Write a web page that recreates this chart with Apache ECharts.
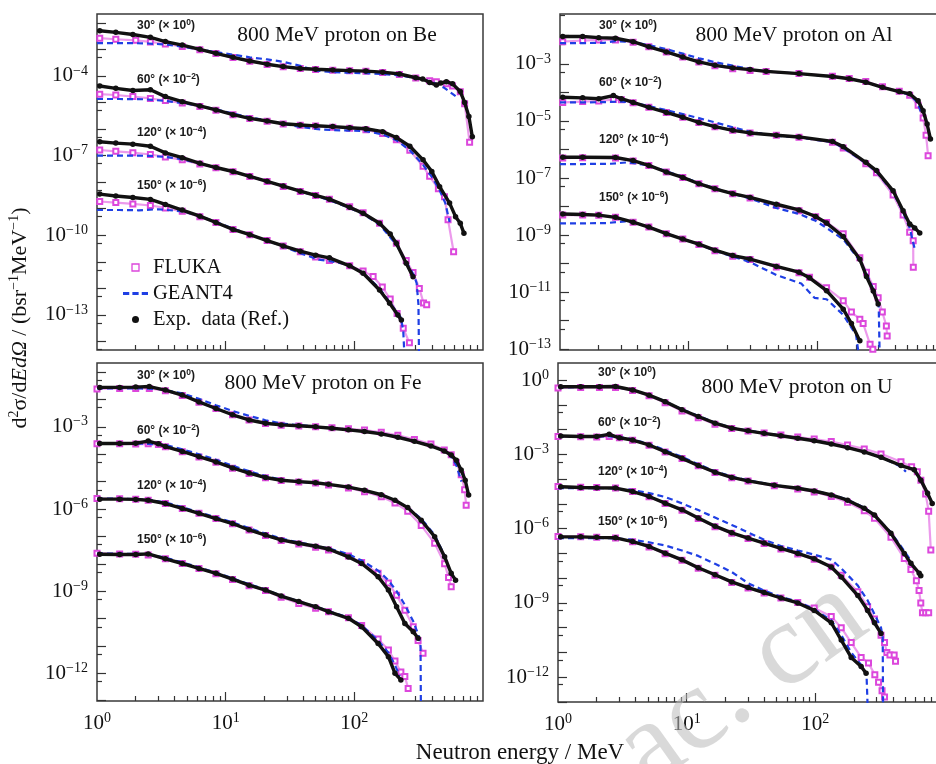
<!DOCTYPE html>
<html>
<head>
<meta charset="utf-8">
<title>800 MeV proton neutron spectra</title>
<script src="https://cdn.jsdelivr.net/npm/echarts@6/dist/echarts.min.js"></script>
<style>
  html, body { margin: 0; padding: 0; background: #fff; }
  #main { width: 936px; height: 764px; }
</style>
</head>
<body>
<div id="main"></div>
<script>
// energies in MeV, values are lg of d2sigma/dEdOmega (b/sr/MeV) after the angle factor

// ---- Be ----
var beExp30 = [[1.05,-2.30],[1.4,-2.36],[1.9,-2.44],[2.6,-2.55],[3.4,-2.71],[4.6,-2.84],[6.3,-3.0],[8.4,-3.15],[11.4,-3.30],[15.4,-3.44],[21,-3.56],[28,-3.65],[38,-3.72],[50,-3.75],[68,-3.78],[92,-3.80],[123,-3.82],[166,-3.86],[224,-3.93],[300,-4.07],[340,-4.12],[385,-4.25],[434,-4.34],[470,-4.27],[519,-4.22],[580,-4.30],[666,-4.59],[720,-5.0],[777,-5.53],[826,-6.29]];
var beFl30 = [[1.05,-2.58],[1.4,-2.62],[2,-2.66],[2.6,-2.72],[3.4,-2.80],[4.6,-2.89],[6.3,-3.02],[8.4,-3.16],[11.4,-3.31],[15.4,-3.45],[21,-3.57],[28,-3.66],[38,-3.72],[50,-3.76],[68,-3.79],[92,-3.81],[123,-3.83],[166,-3.87],[224,-3.95],[300,-4.08],[385,-4.18],[434,-4.22],[519,-4.30],[580,-4.38],[666,-4.6],[720,-5.05],[787,-6.5]];
var beG30 = [[1.0,-2.77],[1.5,-2.77],[2.0,-2.77],[2.5,-2.78],[3.4,-2.82],[4.6,-2.90],[6.1,-3.0],[8.4,-3.10],[11.4,-3.20],[15.4,-3.30],[21,-3.38],[28,-3.47],[38,-3.62],[50,-3.80],[68,-3.86],[92,-3.88],[123,-3.90],[166,-3.93],[224,-3.98],[300,-4.08],[400,-4.22],[500,-4.45],[620,-4.78]];
var beExp60 = [[1.05,-4.38],[1.4,-4.47],[1.9,-4.55],[2.6,-4.52],[3.4,-4.78],[4.6,-4.97],[6.3,-5.13],[8.4,-5.28],[11.4,-5.46],[15.4,-5.60],[21,-5.70],[28,-5.80],[38,-5.85],[50,-5.88],[68,-5.91],[92,-5.95],[123,-5.99],[166,-6.10],[212,-6.32],[270,-6.65],[342,-7.16],[400,-7.6],[460,-8.17],[550,-8.79],[612,-9.30],[666,-9.55],[711,-9.92]];
var beFl60 = [[1.05,-4.69],[1.4,-4.72],[1.9,-4.78],[2.6,-4.85],[3.4,-4.93],[4.6,-5.02],[6.3,-5.15],[8.4,-5.29],[11.4,-5.46],[15.4,-5.60],[21,-5.71],[28,-5.81],[38,-5.86],[50,-5.89],[68,-5.93],[92,-5.97],[123,-6.03],[166,-6.17],[212,-6.40],[270,-6.80],[342,-7.40],[385,-7.78],[450,-8.25],[502,-8.55],[535,-9.42],[591,-10.62]];
var beG60 = [[1.0,-4.87],[1.5,-4.87],[2.3,-4.88],[3.4,-4.94],[4.6,-5.02],[6.3,-5.13],[8.4,-5.26],[11.4,-5.42],[15.4,-5.56],[21,-5.68],[28,-5.80],[38,-5.92],[50,-6.00],[68,-6.04],[92,-6.06],[123,-6.08],[166,-6.20],[212,-6.42],[270,-6.80],[342,-7.35],[400,-7.8],[460,-8.3],[510,-8.8],[550,-9.5]];
var beExp120 = [[1.05,-6.48],[1.4,-6.53],[1.9,-6.57],[2.6,-6.65],[3.4,-6.90],[4.6,-7.08],[6.3,-7.29],[8.4,-7.45],[11.4,-7.60],[15.4,-7.78],[21,-7.97],[28,-8.15],[38,-8.34],[50,-8.50],[64,-8.64],[92,-8.95],[117,-9.17],[157,-9.55],[190,-9.95],[212,-10.30],[253,-11.05],[286,-11.56]];
var beFl120 = [[1.05,-6.79],[1.4,-6.84],[1.9,-6.89],[2.6,-6.96],[3.4,-7.05],[4.6,-7.16],[6.3,-7.32],[8.4,-7.46],[11.4,-7.61],[15.4,-7.79],[21,-7.98],[28,-8.16],[38,-8.35],[50,-8.50],[64,-8.64],[92,-8.93],[117,-9.15],[157,-9.55],[212,-10.3],[253,-10.95],[286,-11.4],[320,-12.0],[345,-12.55],[365,-12.62]];
var beG120 = [[1.0,-7.0],[1.5,-7.0],[2.6,-7.01],[3.4,-7.05],[4.6,-7.14],[6.3,-7.30],[8.4,-7.45],[11.4,-7.60],[15.4,-7.78],[21,-7.97],[28,-8.15],[38,-8.34],[50,-8.52],[64,-8.68],[92,-8.97],[117,-9.2],[157,-9.6],[212,-10.35],[253,-11.0],[290,-11.5],[305,-11.8],[315,-12.6],[318,-14.5]];
var beExp150 = [[1.05,-8.45],[1.4,-8.52],[1.9,-8.58],[2.6,-8.65],[3.4,-8.84],[4.6,-9.05],[6.3,-9.28],[8.4,-9.52],[11.4,-9.78],[15.4,-9.98],[21,-10.2],[28,-10.40],[38,-10.60],[50,-10.75],[64,-10.85],[92,-11.15],[117,-11.43],[157,-12.06],[188,-12.56],[218,-13.0],[232,-13.19]];
var beFl150 = [[1.05,-8.73],[1.4,-8.77],[1.9,-8.82],[2.6,-8.88],[3.4,-8.97],[4.6,-9.10],[6.3,-9.30],[8.4,-9.52],[11.4,-9.78],[15.4,-9.98],[21,-10.2],[28,-10.40],[38,-10.62],[50,-10.82],[64,-10.95],[92,-11.15],[117,-11.35],[140,-11.55],[165,-11.95],[190,-12.4],[215,-12.95],[240,-13.5],[268,-14.05]];
var beG150 = [[1.0,-9.05],[1.5,-9.05],[2.1,-9.06],[3.0,-9.02],[4.6,-9.10],[6.3,-9.28],[8.4,-9.50],[11.4,-9.75],[15.4,-9.97],[21,-10.2],[28,-10.42],[38,-10.68],[53,-10.92],[70,-11.0],[90,-11.1],[117,-11.42],[157,-12.0],[200,-12.7],[230,-13.1],[240,-13.6],[245,-14.5]];

// ---- Al ----
var alExp30 = [[1.05,-2.04],[1.5,-2.04],[2.0,-2.08],[2.7,-2.10],[3.7,-2.22],[4.9,-2.40],[6.7,-2.58],[9,-2.76],[12,-2.93],[16,-3.05],[22,-3.14],[30,-3.20],[40,-3.26],[72,-3.34],[131,-3.44],[177,-3.52],[238,-3.64],[321,-3.82],[433,-3.97],[522,-4.05],[607,-4.29],[664,-4.64],[713,-5.11],[757,-5.63]];
var alFl30 = [[1.05,-2.22],[1.5,-2.18],[2.0,-2.16],[2.7,-2.16],[3.7,-2.24],[4.9,-2.40],[6.7,-2.58],[9,-2.76],[12,-2.93],[16,-3.06],[22,-3.17],[30,-3.23],[40,-3.27],[72,-3.34],[131,-3.43],[177,-3.51],[238,-3.62],[321,-3.80],[433,-3.96],[522,-4.10],[607,-4.45],[664,-4.9],[700,-5.5],[726,-6.22]];
var alG30 = [[1.0,-2.27],[1.5,-2.27],[2.2,-2.26],[2.7,-2.20],[3.7,-2.24],[4.9,-2.34],[6.7,-2.48],[9,-2.64],[12,-2.80],[16,-2.94],[22,-3.06],[30,-3.18],[40,-3.26],[72,-3.34],[131,-3.44],[177,-3.52],[238,-3.64],[321,-3.82],[433,-3.98],[522,-4.08],[600,-4.35],[640,-4.7]];
var alExp60 = [[1.05,-4.17],[1.5,-4.19],[2.0,-4.22],[2.6,-4.11],[3.0,-4.22],[3.7,-4.35],[4.9,-4.52],[6.7,-4.70],[9,-4.87],[12,-5.05],[16,-5.20],[22,-5.33],[30,-5.42],[48,-5.50],[72,-5.56],[131,-5.72],[159,-5.90],[238,-6.45],[288,-6.74],[388,-7.45],[464,-8.15],[522,-8.61],[571,-8.75],[625,-8.93]];
var alFl60 = [[1.05,-4.35],[1.5,-4.32],[2.0,-4.30],[2.6,-4.25],[3.0,-4.26],[3.7,-4.36],[4.9,-4.52],[6.7,-4.70],[9,-4.87],[12,-5.05],[16,-5.20],[22,-5.33],[30,-5.42],[48,-5.50],[72,-5.57],[131,-5.75],[159,-5.95],[238,-6.50],[288,-6.82],[388,-7.6],[464,-8.3],[522,-8.9],[556,-9.2],[557,-10.13]];
var alG60 = [[1.0,-4.35],[1.5,-4.35],[2.2,-4.34],[3.0,-4.32],[3.7,-4.36],[4.9,-4.48],[6.7,-4.62],[9,-4.76],[12,-4.90],[16,-5.05],[22,-5.22],[30,-5.38],[48,-5.52],[72,-5.58],[131,-5.74],[159,-5.95],[238,-6.48],[288,-6.78],[388,-7.5],[464,-8.2],[522,-8.75],[571,-9.48]];
var alExp120 = [[1.05,-6.27],[1.5,-6.27],[2.7,-6.28],[3.7,-6.39],[4.9,-6.56],[6.7,-6.79],[9,-6.98],[12,-7.20],[16,-7.38],[22,-7.55],[30,-7.68],[48,-7.92],[72,-8.12],[97,-8.35],[118,-8.58],[159,-9.05],[214,-9.85],[241,-10.45],[272,-10.96],[297,-11.42]];
var alFl120 = [[1.05,-6.30],[1.5,-6.29],[2.7,-6.30],[3.7,-6.40],[4.9,-6.56],[6.7,-6.79],[9,-6.98],[12,-7.20],[16,-7.38],[22,-7.55],[30,-7.70],[48,-7.96],[72,-8.15],[97,-8.36],[118,-8.56],[159,-8.95],[214,-9.8],[241,-10.3],[272,-10.8],[297,-11.2],[320,-11.7],[344,-12.19],[349,-12.54]];
var alG120 = [[1.0,-6.51],[1.5,-6.51],[2.5,-6.50],[3.4,-6.45],[4.9,-6.56],[6.7,-6.76],[9,-6.96],[12,-7.18],[16,-7.36],[22,-7.55],[30,-7.72],[48,-8.05],[72,-8.26],[97,-8.50],[118,-8.75],[159,-9.15],[214,-9.9],[241,-10.35],[272,-10.9],[290,-11.3],[300,-11.5],[305,-13.2]];
var alExp150 = [[1.05,-8.26],[1.5,-8.28],[2.0,-8.30],[2.7,-8.38],[3.7,-8.55],[4.9,-8.72],[6.7,-8.95],[9,-9.14],[12,-9.32],[16,-9.53],[22,-9.72],[30,-9.84],[48,-10.10],[72,-10.30],[87,-10.50],[118,-10.95],[159,-11.6],[184,-12.1],[214,-12.71]];
var alFl150 = [[1.05,-8.30],[1.5,-8.30],[2.0,-8.31],[2.7,-8.38],[3.7,-8.55],[4.9,-8.72],[6.7,-8.95],[9,-9.14],[12,-9.33],[16,-9.55],[22,-9.74],[30,-9.86],[48,-10.12],[72,-10.32],[87,-10.48],[118,-10.85],[159,-11.3],[184,-11.7],[214,-11.95],[227,-12.1],[257,-12.83],[270,-13.0]];
var alG150 = [[1.0,-8.59],[1.5,-8.59],[2.3,-8.58],[3.2,-8.52],[3.7,-8.56],[4.9,-8.72],[6.7,-8.95],[9,-9.14],[12,-9.32],[16,-9.55],[22,-9.75],[30,-9.95],[48,-10.40],[60,-10.55],[75,-10.7],[95,-11.2],[118,-11.25],[159,-11.8],[200,-12.5],[210,-13.2]];

// ---- Fe ----
var feExp30 = [[1.05,-1.56],[1.5,-1.56],[2.0,-1.55],[2.55,-1.53],[3.4,-1.66],[4.6,-1.84],[6.2,-2.09],[8.4,-2.33],[11.3,-2.56],[15.2,-2.75],[20.4,-2.87],[27,-2.93],[37,-2.96],[50,-3.0],[67,-3.05],[90,-3.11],[120,-3.17],[162,-3.26],[218,-3.38],[293,-3.53],[394,-3.70],[500,-3.88],[566,-4.03],[620,-4.22],[677,-4.58],[727,-4.95],[773,-5.49]];
var feFl30 = [[1.0,-1.62],[1.5,-1.60],[2.0,-1.60],[2.55,-1.60],[3.4,-1.68],[4.6,-1.86],[6.2,-2.10],[8.4,-2.33],[11.3,-2.56],[15.2,-2.75],[20.4,-2.88],[27,-2.94],[37,-2.97],[50,-3.0],[67,-3.03],[90,-3.07],[120,-3.12],[162,-3.20],[218,-3.31],[293,-3.46],[394,-3.63],[500,-3.85],[566,-4.02],[620,-4.3],[677,-4.75],[720,-5.3],[740,-5.86]];
var feG30 = [[1.0,-1.60],[1.5,-1.60],[2.2,-1.60],[3.0,-1.62],[4.6,-1.78],[6.2,-1.98],[8.4,-2.21],[11.3,-2.42],[15.2,-2.60],[20.4,-2.76],[27,-2.88],[37,-2.94],[50,-2.99],[67,-3.04],[90,-3.10],[120,-3.16],[162,-3.25],[218,-3.37],[293,-3.52],[394,-3.70],[500,-3.88],[560,-4.05],[620,-4.4],[680,-5.0]];
var feExp60 = [[1.05,-3.61],[1.5,-3.61],[2.0,-3.60],[2.5,-3.52],[3.0,-3.62],[3.4,-3.72],[4.6,-3.90],[6.2,-4.09],[8.4,-4.28],[11.3,-4.50],[15.2,-4.69],[20.4,-4.85],[27,-4.95],[37,-5.0],[50,-5.04],[63,-5.10],[90,-5.20],[120,-5.32],[162,-5.48],[207,-5.68],[260,-5.95],[331,-6.41],[421,-7.01],[503,-7.74],[566,-8.35],[612,-8.60]];
var feFl60 = [[1.0,-3.62],[1.5,-3.62],[2.0,-3.63],[2.5,-3.62],[3.0,-3.65],[3.4,-3.73],[4.6,-3.91],[6.2,-4.10],[8.4,-4.29],[11.3,-4.51],[15.2,-4.70],[20.4,-4.86],[27,-4.96],[37,-5.01],[50,-5.05],[63,-5.12],[90,-5.23],[120,-5.37],[162,-5.55],[207,-5.78],[260,-6.08],[331,-6.6],[421,-7.25],[503,-8.0],[540,-8.5],[566,-8.84]];
var feG60 = [[1.0,-3.61],[1.5,-3.61],[2.5,-3.62],[3.4,-3.66],[4.6,-3.82],[6.2,-4.00],[8.4,-4.20],[11.3,-4.42],[15.2,-4.62],[20.4,-4.80],[27,-4.92],[37,-5.0],[50,-5.05],[63,-5.10],[90,-5.20],[120,-5.32],[162,-5.48],[207,-5.68],[260,-5.95],[331,-6.35],[421,-6.95],[503,-7.70],[566,-8.4]];
var feExp120 = [[1.05,-5.64],[1.5,-5.64],[2.0,-5.65],[2.5,-5.68],[3.4,-5.80],[4.6,-5.98],[6.2,-6.16],[8.4,-6.35],[11.3,-6.53],[15.2,-6.76],[20.4,-6.95],[27,-7.13],[37,-7.25],[50,-7.36],[63,-7.46],[90,-7.75],[114,-7.99],[153,-8.47],[184,-8.96],[213,-9.57],[247,-10.18],[287,-10.48],[313,-10.72]];
var feFl120 = [[1.0,-5.62],[1.5,-5.63],[2.0,-5.64],[2.5,-5.68],[3.4,-5.80],[4.6,-5.98],[6.2,-6.16],[8.4,-6.35],[11.3,-6.54],[15.2,-6.77],[20.4,-6.97],[27,-7.15],[37,-7.28],[50,-7.40],[63,-7.50],[90,-7.72],[114,-7.95],[153,-8.35],[184,-8.70],[213,-9.15],[247,-9.7],[287,-10.3],[313,-10.8],[342,-11.27]];
var feG120 = [[1.0,-5.62],[1.5,-5.62],[2.5,-5.66],[3.4,-5.76],[4.6,-5.93],[6.2,-6.12],[8.4,-6.30],[11.3,-6.49],[15.2,-6.70],[20.4,-6.90],[27,-7.08],[37,-7.22],[50,-7.34],[63,-7.44],[90,-7.65],[114,-7.88],[153,-8.25],[184,-8.60],[213,-9.0],[247,-9.5],[287,-10.1],[315,-10.6],[327,-11.0],[329,-13.2]];
var feExp150 = [[1.05,-7.65],[1.5,-7.66],[2.0,-7.66],[2.5,-7.64],[3.4,-7.82],[4.6,-7.99],[6.2,-8.17],[8.4,-8.35],[11.3,-8.56],[15.2,-8.78],[20.4,-8.96],[27,-9.18],[37,-9.38],[50,-9.57],[63,-9.75],[90,-9.99],[114,-10.30],[153,-10.91],[184,-11.39],[207,-12.0],[230,-12.24]];
var feFl150 = [[1.0,-7.62],[1.5,-7.64],[2.0,-7.65],[2.5,-7.68],[3.4,-7.82],[4.6,-7.99],[6.2,-8.17],[8.4,-8.36],[11.3,-8.57],[15.2,-8.80],[20.4,-8.98],[27,-9.22],[37,-9.45],[50,-9.62],[63,-9.75],[90,-9.97],[114,-10.25],[153,-10.75],[184,-11.15],[207,-11.55],[230,-11.95],[247,-12.12],[262,-12.55]];
var feG150 = [[1.0,-7.62],[1.5,-7.63],[2.5,-7.65],[3.4,-7.78],[4.6,-7.95],[6.2,-8.13],[8.4,-8.32],[11.3,-8.53],[15.2,-8.75],[20.4,-8.94],[27,-9.17],[37,-9.37],[50,-9.56],[63,-9.73],[90,-9.96],[114,-10.25],[153,-10.8],[184,-11.25],[207,-11.7],[225,-12.1]];

// ---- U ----
var uExp30 = [[1.05,-0.27],[1.5,-0.27],[2.1,-0.27],[2.8,-0.26],[3.8,-0.40],[5.1,-0.61],[6.8,-0.87],[9.2,-1.20],[12.3,-1.47],[16.6,-1.74],[22.4,-1.94],[30,-2.05],[40,-2.15],[54,-2.25],[73,-2.35],[98,-2.45],[133,-2.58],[178,-2.73],[240,-2.90],[324,-3.12],[463,-3.45],[587,-3.62],[661,-4.04],[745,-4.57],[810,-4.98]];
var uFl30 = [[1.0,-0.32],[1.5,-0.30],[2.1,-0.30],[2.8,-0.30],[3.8,-0.42],[5.1,-0.63],[6.8,-0.92],[9.2,-1.25],[12.3,-1.52],[16.6,-1.78],[22.4,-1.96],[30,-2.06],[40,-2.14],[54,-2.22],[73,-2.30],[98,-2.38],[133,-2.48],[178,-2.62],[240,-2.78],[324,-2.98],[463,-3.30],[560,-3.50],[620,-3.7],[661,-4.05],[720,-4.6],[760,-5.3],[790,-6.86]];
var uG30 = [[1.0,-0.30],[1.5,-0.28],[2.1,-0.28],[2.8,-0.28],[3.8,-0.40],[5.1,-0.60],[6.8,-0.86],[9.2,-1.18],[12.3,-1.45],[16.6,-1.72],[22.4,-1.92],[30,-2.04],[40,-2.14],[54,-2.24],[73,-2.34],[98,-2.44],[133,-2.57],[178,-2.72],[240,-2.89],[324,-3.11],[463,-3.50],[506,-3.70]];
var uExp60 = [[1.05,-2.26],[1.5,-2.28],[2.0,-2.28],[2.5,-2.19],[3.0,-2.33],[3.8,-2.42],[5.1,-2.62],[6.8,-2.89],[9.2,-3.16],[12.3,-3.45],[16.6,-3.72],[22.4,-3.93],[30,-4.07],[48,-4.25],[73,-4.37],[98,-4.48],[133,-4.64],[178,-4.85],[240,-5.18],[288,-5.45],[387,-6.19],[491,-7.0],[553,-7.40],[642,-7.80],[660,-7.9]];
var uFl60 = [[1.0,-2.28],[1.5,-2.29],[2.0,-2.30],[2.5,-2.28],[3.0,-2.33],[3.8,-2.43],[5.1,-2.63],[6.8,-2.90],[9.2,-3.17],[12.3,-3.46],[16.6,-3.73],[22.4,-3.94],[30,-4.08],[48,-4.27],[73,-4.40],[98,-4.52],[133,-4.70],[178,-4.93],[240,-5.28],[288,-5.58],[387,-6.35],[491,-7.2],[553,-7.65],[610,-8.1],[640,-8.5],[660,-9.0],[680,-9.4],[720,-9.4],[760,-9.4]];
var uG60 = [[1.0,-2.28],[1.5,-2.28],[2.5,-2.27],[3.0,-2.30],[3.8,-2.40],[5.1,-2.58],[6.8,-2.83],[9.2,-3.10],[12.3,-3.40],[16.6,-3.68],[22.4,-3.90],[30,-4.05],[48,-4.24],[73,-4.36],[98,-4.47],[133,-4.62],[178,-4.83],[240,-5.15],[288,-5.45],[387,-6.15],[491,-6.9],[553,-7.3]];
var uExp120 = [[1.05,-4.31],[1.5,-4.34],[2.0,-4.35],[2.8,-4.36],[3.8,-4.50],[5.1,-4.70],[6.8,-4.97],[9.2,-5.24],[12.3,-5.57],[16.6,-5.90],[22.4,-6.17],[30,-6.38],[40,-6.58],[54,-6.80],[73,-7.0],[98,-7.22],[133,-7.55],[159,-7.95],[214,-8.70],[255,-9.30],[288,-9.80],[324,-10.23]];
var uFl120 = [[1.0,-4.30],[1.5,-4.33],[2.0,-4.34],[2.8,-4.36],[3.8,-4.50],[5.1,-4.71],[6.8,-4.98],[9.2,-5.26],[12.3,-5.59],[16.6,-5.92],[22.4,-6.19],[30,-6.40],[40,-6.60],[54,-6.82],[73,-7.02],[98,-7.24],[133,-7.55],[159,-7.88],[214,-8.55],[255,-9.15],[288,-9.65],[324,-10.3],[345,-10.6],[360,-11.0],[380,-11.1],[410,-11.1],[420,-11.35]];
var uG120 = [[1.0,-4.36],[1.5,-4.36],[2.5,-4.36],[3.8,-4.44],[5.1,-4.56],[6.8,-4.72],[9.2,-4.98],[12.3,-5.25],[16.6,-5.55],[22.4,-5.85],[30,-6.15],[40,-6.45],[54,-6.70],[73,-6.88],[98,-7.05],[133,-7.25],[159,-7.6],[214,-8.3],[255,-8.9],[288,-9.45],[324,-10.0],[334,-10.4],[336,-13.2]];
var uExp150 = [[1.05,-6.33],[1.5,-6.33],[2.0,-6.35],[2.8,-6.37],[3.8,-6.52],[5.1,-6.72],[6.8,-6.99],[9.2,-7.26],[12.3,-7.58],[16.6,-7.86],[22.4,-8.15],[30,-8.38],[40,-8.58],[54,-8.80],[73,-9.0],[98,-9.30],[133,-9.80],[159,-10.5],[190,-11.2],[227,-11.57],[248,-11.84]];
var uFl150 = [[1.0,-6.32],[1.5,-6.33],[2.0,-6.35],[2.8,-6.38],[3.8,-6.53],[5.1,-6.74],[6.8,-7.01],[9.2,-7.28],[12.3,-7.60],[16.6,-7.88],[22.4,-8.17],[30,-8.40],[40,-8.60],[54,-8.80],[73,-8.98],[98,-9.20],[133,-9.55],[159,-10.0],[190,-10.6],[227,-11.2],[259,-11.43],[290,-11.9],[310,-12.2],[330,-12.55],[345,-12.8]];
var uG150 = [[1.0,-6.38],[1.5,-6.38],[2.5,-6.38],[3.8,-6.45],[5.1,-6.55],[6.8,-6.68],[9.2,-6.88],[12.3,-7.1],[16.6,-7.42],[22.4,-7.75],[30,-8.2],[40,-8.5],[54,-8.75],[73,-8.95],[98,-9.25],[133,-9.7],[159,-10.3],[190,-11.0],[227,-11.5],[250,-11.9],[255,-13.2]];

// angle tags and their scale factors (exponent)
var angles = ['30°', '60°', '120°', '150°'];
var factors = [0, -2, -4, -6];
var xLabelExp = [0, 1, 2];

var PINK = '#dc47dc', BLUE = '#1f3fe4', BLACK = '#111';
var SERIF = 'Liberation Serif';

var panels = [
    {title: '800 MeV proton on Be', left: 97, top: 14, height: 336, yMin: -14.32, yMax: -1.67, yLabels: [-4, -7, -10, -13], bottom: false,
        titleAt: [337, 35], tagX: 137, tagY: [26, 80, 133, 186],
        curves: [[beExp30, beFl30, beG30], [beExp60, beFl60, beG60], [beExp120, beFl120, beG120], [beExp150, beFl150, beG150]]},
    {title: '800 MeV proton on Al', left: 560, top: 14, height: 336, yMin: -13.03, yMax: -1.25, yLabels: [-3, -5, -7, -9, -11, -13], bottom: false,
        titleAt: [794, 35], tagX: 599, tagY: [26, 83, 140, 198],
        curves: [[alExp30, alFl30, alG30], [alExp60, alFl60, alG60], [alExp120, alFl120, alG120], [alExp150, alFl150, alG150]]},
    {title: '800 MeV proton on Fe', left: 97, top: 363, height: 338, yMin: -13.01, yMax: -0.67, yLabels: [-3, -6, -9, -12], bottom: true,
        titleAt: [323, 383], tagX: 137, tagY: [376, 431, 486, 540],
        curves: [[feExp30, feFl30, feG30], [feExp60, feFl60, feG60], [feExp120, feFl120, feG120], [feExp150, feFl150, feG150]]},
    {title: '800 MeV proton on U', left: 558, top: 363, height: 339, yMin: -13.0, yMax: 0.69, yLabels: [0, -3, -6, -9, -12], bottom: true,
        titleAt: [797, 387], tagX: 598, tagY: [373, 423, 472, 522],
        curves: [[uExp30, uFl30, uG30], [uExp60, uFl60, uG60], [uExp120, uFl120, uG120], [uExp150, uFl150, uG150]]}
];

function toLog(pts) {
    return pts.map(function (p) { return [Math.log10(p[0]), p[1]]; });
}
function expText(e) {
    return e < 0 ? '\u2212' + (-e) : String(e);
}
function pow10(v) {
    return '{b|10}{s|' + expText(Math.round(v)) + '}';
}
var powRich = {
    b: {fontFamily: SERIF, fontSize: 21, color: BLACK, lineHeight: 24},
    s: {fontFamily: SERIF, fontSize: 14, color: BLACK, lineHeight: 14, verticalAlign: 'top'}
};

// log-decade ticks
var xMajor = [1, 2];
var xMinor = [];
for (var n = 0; n < 3; n++) {
    for (var k = 2; k < 10; k++) xMinor.push(n + Math.log10(k));
}
function decades(lo, hi) {
    var r = [];
    for (var v = Math.ceil(lo); v <= Math.floor(hi); v++) r.push(v);
    return r;
}
function fives(lo, hi) {
    var r = [];
    for (var v = Math.floor(lo); v <= hi; v++) {
        var t = v + Math.log10(5);
        if (t > lo && t < hi) r.push(t);
    }
    return r;
}

var grids = [], xAxes = [], yAxes = [], series = [], graphics = [];
var tickLine = {color: '#333', width: 1.2};
var noLine = {show: false, onZero: false};

panels.forEach(function (p, i) {
    grids.push({
        left: p.left, top: p.top, width: 386, height: p.height,
        show: true, borderColor: '#3a3a3a', borderWidth: 1.5,
        outerBoundsMode: 'none'
    });
    xAxes.push({
        gridIndex: i, type: 'value', position: 'bottom', min: 0, max: 3,
        axisLine: noLine, splitLine: {show: false},
        axisTick: {inside: true, length: 9, customValues: xMajor, lineStyle: tickLine},
        axisLabel: {show: p.bottom, customValues: xLabelExp, margin: 10, formatter: pow10, rich: powRich}
    }, {
        gridIndex: i, type: 'value', position: 'bottom', min: 0, max: 3,
        axisLine: noLine, splitLine: {show: false},
        axisTick: {inside: true, length: 5, customValues: xMinor, lineStyle: tickLine},
        axisLabel: {show: false}
    });
    yAxes.push({
        gridIndex: i, type: 'value', position: 'left', min: p.yMin, max: p.yMax,
        axisLine: noLine, splitLine: {show: false},
        axisTick: {inside: true, length: 9, customValues: decades(p.yMin, p.yMax), lineStyle: tickLine},
        axisLabel: {customValues: p.yLabels, margin: 9, formatter: pow10, rich: powRich}
    }, {
        gridIndex: i, type: 'value', position: 'left', min: p.yMin, max: p.yMax,
        axisLine: noLine, splitLine: {show: false},
        axisTick: {inside: true, length: 5, customValues: fives(p.yMin, p.yMax), lineStyle: tickLine},
        axisLabel: {show: false}
    });

    p.curves.forEach(function (c, j) {
        series.push({
            name: 'FLUKA', type: 'line', xAxisIndex: 2 * i, yAxisIndex: 2 * i,
            data: toLog(c[1]), symbol: 'emptyRect', symbolSize: 5, z: 2,
            lineStyle: {color: PINK, width: 2.2, opacity: 0.55},
            itemStyle: {color: PINK, borderWidth: 1}
        }, {
            name: 'GEANT4', type: 'line', xAxisIndex: 2 * i, yAxisIndex: 2 * i,
            data: toLog(c[2]), symbol: 'none', z: 3,
            lineStyle: {color: BLUE, width: 2.2, type: [6, 4]}
        }, {
            name: 'Exp.  data (Ref.)', type: 'line', xAxisIndex: 2 * i, yAxisIndex: 2 * i,
            data: toLog(c[0]), symbol: 'circle', symbolSize: 5.5, z: 4,
            lineStyle: {color: BLACK, width: 3.4},
            itemStyle: {color: BLACK}
        });
        // angle tag, e.g. 30° (× 10^0)
        graphics.push({
            type: 'text', x: p.tagX, y: p.tagY[j], z: 10,
            style: {
                text: '{a|' + angles[j] + ' (× 10}{e|' + expText(factors[j]) + '}{a|)}',
                align: 'left', verticalAlign: 'middle',
                rich: {
                    a: {fontFamily: 'Liberation Sans', fontWeight: 'bold', fontSize: 12, fill: '#1a1a1a', lineHeight: 15},
                    e: {fontFamily: 'Liberation Sans', fontWeight: 'bold', fontSize: 8.5, fill: '#1a1a1a', lineHeight: 9, verticalAlign: 'top'}
                }
            }
        });
    });

    graphics.push({
        type: 'text', x: p.titleAt[0], y: p.titleAt[1], z: 10,
        style: {text: p.title, fontFamily: SERIF, fontSize: 21.5, fill: BLACK, align: 'center', verticalAlign: 'middle'}
    });
});

// shared axis titles
graphics.push({
    type: 'text', x: 20, y: 318, rotation: Math.PI / 2, z: 10,
    style: {
        text: 'd{p|2}σ/d{i|EdΩ} / (bsr{p|\u22121}MeV{p|\u22121})',
        fontFamily: SERIF, fontSize: 22, fill: BLACK, align: 'center', verticalAlign: 'middle',
        rich: {
            p: {fontFamily: SERIF, fontSize: 14, fill: BLACK, verticalAlign: 'top', lineHeight: 14},
            i: {fontFamily: SERIF, fontSize: 22, fontStyle: 'italic', fill: BLACK, lineHeight: 26}
        }
    }
});
graphics.push({
    type: 'text', x: 520, y: 753, z: 10,
    style: {text: 'Neutron energy / MeV', fontFamily: SERIF, fontSize: 23, fill: BLACK, align: 'center', verticalAlign: 'middle'}
});
// site watermark
graphics.push({
    type: 'text', x: 742, y: 684, rotation: 0.62, z: 1,
    style: {text: 'ac. cn', fontFamily: SERIF, fontSize: 118, fill: 'rgba(185,185,185,0.55)', align: 'center', verticalAlign: 'middle'}
});

var chart = echarts.init(document.getElementById('main'));
chart.setOption({
    backgroundColor: '#fff',
    animation: false,
    grid: grids,
    xAxis: xAxes,
    yAxis: yAxes,
    legend: {
        left: 118, top: 252, orient: 'vertical',
        itemWidth: 25, itemHeight: 7, itemGap: 5,
        selectedMode: false,
        textStyle: {fontFamily: SERIF, fontSize: 20.5, color: BLACK},
        data: [
            {name: 'FLUKA', icon: 'path://M0,0H10V10H0Z', itemStyle: {color: '#fff', borderColor: PINK, borderWidth: 1.3}},
            {name: 'GEANT4', icon: 'path://M0,0H6V3H0Z M9,0H15V3H9Z M18,0H24V3H18Z', itemStyle: {color: BLUE}},
            {name: 'Exp.  data (Ref.)', icon: 'circle', itemStyle: {color: BLACK}}
        ]
    },
    graphic: {elements: graphics},
    series: series
});
</script>
</body>
</html>
